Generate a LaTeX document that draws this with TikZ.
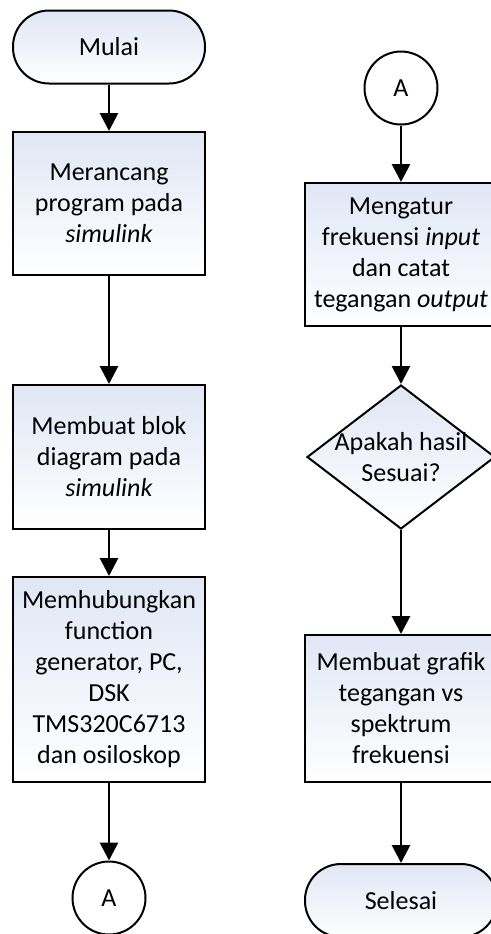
\documentclass[tikz,border=0pt]{standalone}
\usepackage{fontspec}
\setmainfont{Carlito}
\usetikzlibrary{shapes.geometric,arrows.meta}
\definecolor{bleu}{RGB}{224,230,245}

\begin{document}
\begin{tikzpicture}[x=0.5pt,y=-0.5pt,
teks/.style={align=center,font=\fontsize{13}{15.5}\selectfont},
boite/.style={teks,draw,line width=1pt,top color=bleu,bottom color=white,
 minimum width=96pt,inner sep=0pt},
terminal/.style={boite,rounded corners=18pt,minimum height=36.5pt},
losange/.style={boite,diamond,minimum width=94pt,minimum height=72pt},
rond/.style={teks,draw,circle,line width=1pt,minimum size=36.5pt,inner sep=0pt},
fleche/.style={line width=1.4pt,-{Triangle[length=9pt,width=9pt]}}]
\clip (0,0) rectangle (491,934); % cadre
%
\node[terminal] (mulai) at (109,47) {Mulai};
\node[boite,minimum height=71.5pt] (rancang) at (109,203.5)
 {Merancang\\program pada\\\textit{simulink}};
\node[boite,minimum height=72pt] (blok) at (109,457)
 {Membuat blok\\diagram pada\\\textit{simulink}};
\node[boite,minimum height=102.5pt] (hubung) at (109,679.5)
 {Memhubungkan\\function\\generator, PC,\\DSK\\TMS320C6713\\dan osiloskop};
\node[rond] (A1) at (109,898) {A}; % colonne gauche
%
\node[rond] (A2) at (401,88) {A};
\node[boite,minimum height=71.5pt] (atur) at (401,254.5)
 {Mengatur\\frekuensi \textit{input}\\dan catat\\tegangan \textit{output}};
\node[losange,label={[teks]center:Apakah hasil\\Sesuai?}] (sesuai) at (401,457) {};
\node[boite,minimum height=73.5pt] (grafik) at (401,708.5)
 {Membuat grafik\\tegangan vs\\spektrum\\frekuensi};
\node[terminal] (selesai) at (401,900.5) {Selesai}; % colonne droite
%
\draw[fleche] (mulai) -- (rancang);
\draw[fleche] (rancang) -- (blok);
\draw[fleche] (blok) -- (hubung);
\draw[fleche] (hubung) -- (A1);
\draw[fleche] (A2) -- (atur);
\draw[fleche] (atur) -- (sesuai);
\draw[fleche] (sesuai) -- (grafik);
\draw[fleche] (grafik) -- (selesai); % fleches
\end{tikzpicture}
\end{document}
